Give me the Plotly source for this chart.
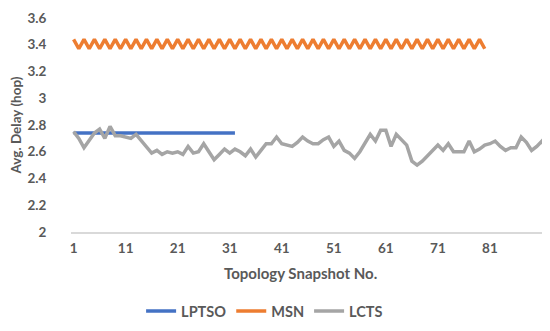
import plotly.graph_objects as go

lptso_x = list(range(1, 33))
lptso_y = [2.74] * 32

msn_x = list(range(1, 81))
msn_high, msn_low = 3.44, 3.37
msn_y = [msn_high if i % 2 == 1 else msn_low for i in msn_x]

lcts_y = [2.75, 2.70, 2.63, 2.69, 2.74, 2.77, 2.70, 2.79, 2.72, 2.72,
          2.71, 2.70, 2.73, 2.68, 2.63, 2.59, 2.61, 2.58, 2.60, 2.59,
          2.60, 2.58, 2.64, 2.59, 2.60, 2.66, 2.60, 2.54, 2.58, 2.62,
          2.59, 2.62, 2.60, 2.57, 2.62, 2.56, 2.61, 2.66, 2.66, 2.71,
          2.66, 2.65, 2.64, 2.67, 2.71, 2.68, 2.66, 2.66, 2.69, 2.71,
          2.64, 2.68, 2.61, 2.59, 2.55, 2.60, 2.67, 2.73, 2.68, 2.76,
          2.76, 2.64, 2.73, 2.69, 2.65, 2.53, 2.50, 2.53, 2.57, 2.61,
          2.65, 2.61, 2.66, 2.60, 2.60, 2.60, 2.68, 2.60, 2.62, 2.65,
          2.66, 2.68, 2.64, 2.61, 2.63, 2.63, 2.71, 2.67, 2.61, 2.64,
          2.68, 2.61, 2.66]
lcts_x = list(range(1, len(lcts_y) + 1))

x_ticks = [1, 11, 21, 31, 41, 51, 61, 71, 81]
y_ticks = [2, 2.2, 2.4, 2.6, 2.8, 3, 3.2, 3.4, 3.6]
y_tick_text = ["2", "2.2", "2.4", "2.6", "2.8", "3", "3.2", "3.4", "3.6"]

font_family = "Lato"
txt_color = "#595959"
fsize = 13.5

fig = go.Figure()
fig.add_trace(go.Scatter(x=lptso_x, y=lptso_y, mode="lines", name="LPTSO",
                         line=dict(color="#4472C4", width=3.5)))
fig.add_trace(go.Scatter(x=msn_x, y=msn_y, mode="lines", name="MSN",
                         line=dict(color="#ED7D31", width=3.5)))
fig.add_trace(go.Scatter(x=lcts_x, y=lcts_y, mode="lines", name="LCTS",
                         line=dict(color="#A5A5A5", width=3.5)))

fig.update_layout(
    width=550, height=331,
    margin=dict(l=63, r=3, t=10, b=107),
    paper_bgcolor="white", plot_bgcolor="white",
    font=dict(family=font_family, size=fsize, color=txt_color),
    showlegend=True,
    legend=dict(orientation="h", x=0.40, xanchor="center", y=-0.295, yanchor="top",
                font=dict(family=font_family, size=14.5, color=txt_color, weight="bold"),
                itemwidth=30, tracegroupgap=0),
    annotations=[dict(text="Topology Snapshot No.", xref="paper", yref="paper",
                      x=0.475, y=-0.19, xanchor="center", yanchor="middle",
                      showarrow=False,
                      font=dict(family=font_family, size=15, color=txt_color, weight="bold"))],
)
fig.update_xaxes(
    range=[0.5, len(lcts_y) + 0.5],
    tickvals=x_ticks, ticktext=[str(t) for t in x_ticks],
    showgrid=False, zeroline=False,
    showline=True, linecolor="#D9D9D9", linewidth=1.5,
    ticks="", ticklabelstandoff=3,
    tickfont=dict(family=font_family, size=fsize, color=txt_color, weight="bold"),
)
fig.update_yaxes(
    range=[2, 3.6],
    tickvals=y_ticks, ticktext=y_tick_text,
    showgrid=False, zeroline=False, showline=False,
    ticks="outside", ticklen=21, tickcolor="rgba(0,0,0,0)",
    tickfont=dict(family=font_family, size=fsize, color=txt_color, weight="bold"),
    title=dict(text="Avg. Delay (hop)", standoff=2,
               font=dict(family=font_family, size=fsize, color=txt_color, weight="bold")),
)

fig.write_html("out.html")
